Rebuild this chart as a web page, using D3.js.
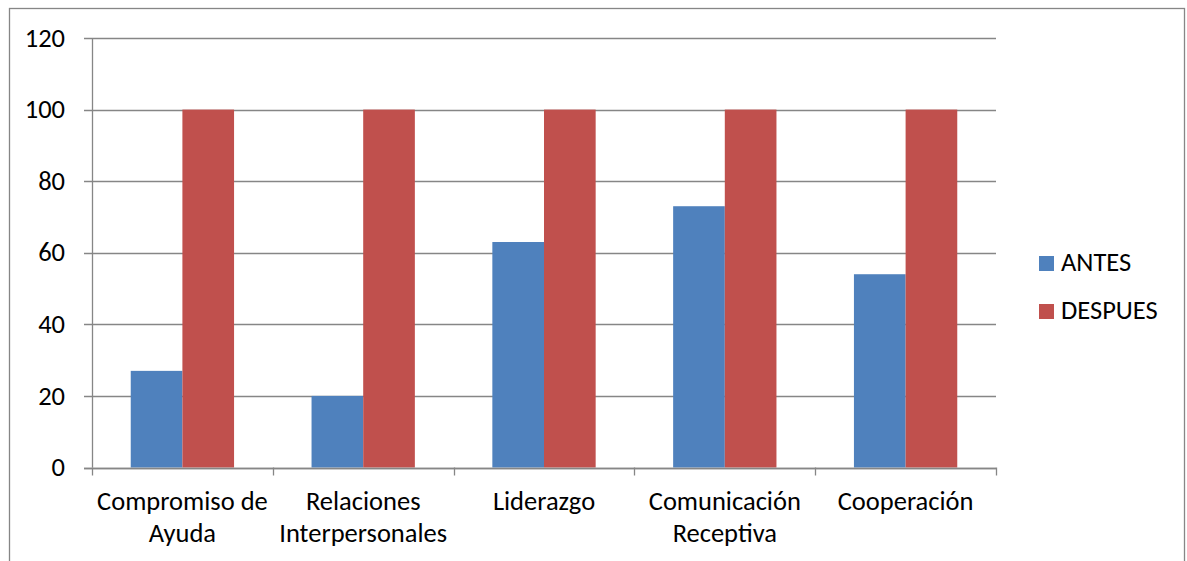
<!DOCTYPE html>
<html>
<head>
<meta charset="utf-8">
<script src="https://cdn.jsdelivr.net/npm/d3@7"></script>
<style>
  html, body { margin: 0; padding: 0; background: #fff; }
  svg { display: block; }
  text { font-family: Carlito, Calibri, Lato, "Open Sans", sans-serif; fill: #000; }
</style>
</head>
<body>
<svg id="chart" width="1187" height="561"></svg>
<script>
// Categories (each label split into display lines)
const categories = [
  ["Compromiso de", "Ayuda"],
  ["Relaciones", "Interpersonales"],
  ["Liderazgo"],
  ["Comunicación", "Receptiva"],
  ["Cooperación"]
];
const seriesNames = ["ANTES", "DESPUES"];
const antes = [27, 20, 63, 73, 54];
const despues = [100, 100, 100, 100, 100];
const yTicks = [0, 20, 40, 60, 80, 100, 120];
const colors = ["#4F81BD", "#C0504D"];

const svg = d3.select("#chart");
const fontSize = 26.5;
const gridColor = "#868686";

// Outer chart frame
svg.append("rect")
  .attr("x", 9.5).attr("y", 8.5)
  .attr("width", 1175).attr("height", 600)
  .attr("fill", "none").attr("stroke", gridColor).attr("stroke-width", 1.3);

const plot = { left: 92, right: 996, top: 38, bottom: 467.5 };

const x0 = d3.scaleBand()
  .domain(d3.range(categories.length))
  .range([plot.left, plot.right])
  .paddingInner(0).paddingOuter(0);

const x1 = d3.scaleBand()
  .domain(seriesNames)
  .range([0, x0.bandwidth()])
  .paddingOuter(0.75).paddingInner(0);

const y = d3.scaleLinear().domain([0, 120]).range([plot.bottom, plot.top]);

// Horizontal gridlines
svg.append("g")
  .selectAll("line")
  .data(yTicks)
  .join("line")
  .attr("x1", plot.left - 8).attr("x2", plot.right)
  .attr("y1", d => Math.round(y(d)) + 0.5).attr("y2", d => Math.round(y(d)) + 0.5)
  .attr("stroke", gridColor).attr("stroke-width", 1.3);

// Bars
const data = categories.map((c, i) => ({ i, values: [antes[i], despues[i]] }));
const groups = svg.append("g").selectAll("g")
  .data(data)
  .join("g")
  .attr("transform", d => `translate(${x0(d.i)},0)`);

groups.selectAll("rect")
  .data(d => d.values.map((v, k) => ({ name: seriesNames[k], v, k })))
  .join("rect")
  .attr("x", d => x1(d.name))
  .attr("width", x1.bandwidth())
  .attr("y", d => y(d.v))
  .attr("height", d => y(0) - y(d.v))
  .attr("fill", d => colors[d.k]);

// Y axis line
svg.append("line")
  .attr("x1", plot.left + 0.5).attr("x2", plot.left + 0.5)
  .attr("y1", plot.top).attr("y2", plot.bottom)
  .attr("stroke", gridColor).attr("stroke-width", 1.3);

// X axis line and category ticks
const xAxis = d3.axisBottom(x0).tickSize(0).tickFormat("");
svg.append("g")
  .attr("transform", `translate(0,${Math.round(y(0)) + 0.5})`)
  .call(xAxis)
  .call(g => g.select(".domain").attr("stroke", gridColor).attr("stroke-width", 1.3)
    .attr("d", `M${plot.left - 8},0H${plot.right}`));

const boundaries = d3.range(categories.length + 1).map(i => plot.left + i * x0.bandwidth());
svg.append("g").selectAll("line")
  .data(boundaries)
  .join("line")
  .attr("x1", d => Math.round(d) + 0.5).attr("x2", d => Math.round(d) + 0.5)
  .attr("y1", y(0)).attr("y2", y(0) + 8)
  .attr("stroke", gridColor).attr("stroke-width", 1.3);

// Y tick labels
svg.append("g").selectAll("text")
  .data(yTicks)
  .join("text")
  .attr("x", 65)
  .attr("y", d => y(d))
  .attr("dy", "0.33em")
  .attr("text-anchor", "end")
  .attr("font-size", fontSize)
  .text(d => d);

// Category labels
const catLabels = svg.append("g").selectAll("text")
  .data(categories)
  .join("text")
  .attr("x", (d, i) => x0(i) + x0.bandwidth() / 2)
  .attr("y", 510)
  .attr("text-anchor", "middle")
  .attr("font-size", fontSize);
catLabels.selectAll("tspan")
  .data((d, i) => d.map((t, k) => ({ t, k, i })))
  .join("tspan")
  .attr("x", d => x0(d.i) + x0.bandwidth() / 2)
  .attr("dy", d => d.k === 0 ? 0 : 32)
  .text(d => d.t);

// Legend
const legend = svg.append("g").selectAll("g")
  .data(seriesNames)
  .join("g")
  .attr("transform", (d, i) => `translate(1039,${256 + i * 48})`);
legend.append("rect")
  .attr("width", 15).attr("height", 15)
  .attr("fill", (d, i) => colors[i]);
legend.append("text")
  .attr("x", 22).attr("y", 15)
  .attr("font-size", fontSize)
  .text(d => d);
</script>
</body>
</html>
